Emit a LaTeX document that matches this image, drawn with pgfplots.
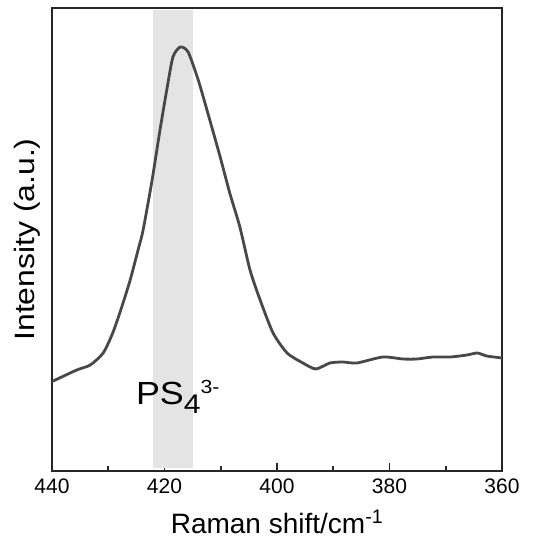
\documentclass[border=0pt]{standalone}
\usepackage{fontspec}
\setmainfont{Liberation Sans}
\newfontfamily\ylabfont{Liberation Sans}[FakeStretch=1.14]
\newfontfamily\psfont{Liberation Sans}[FakeStretch=1.12]
\usepackage{pgfplots}
\pgfplotsset{compat=1.18}
\definecolor{curve}{RGB}{72,72,72}
\definecolor{band}{RGB}{229,228,229}

\begin{document}
\begin{tikzpicture}
\begin{axis}[
    scale only axis,
    width=450pt, height=463pt,
    x dir=reverse,
    xmin=360, xmax=440,
    ymin=0, ymax=463,
    xtick={360,380,...,440},
    minor xtick={370,390,410,430},
    xtick pos=bottom,
    tick align=inside,
    ytick=\empty,
    major tick length=8pt,
    minor tick length=5pt,
    axis line style={line width=1.6pt, black!85},
    every tick/.style={line width=1.6pt, black!85},
    tick label style={font=\fontsize{21}{21}\selectfont},
    xticklabel style={yshift=-4pt},
    /pgf/number format/assume math mode=true,
    xlabel={Raman shift/cm\textsuperscript{-1}},
    ylabel={Intensity (a.u.)},
    xlabel style={font=\fontsize{28}{28}\selectfont, at={(axis description cs:0.5,0)}, anchor=base, yshift=-62pt},
    ylabel style={font=\ylabfont\fontsize{28}{28}\selectfont, at={([xshift=-17pt]axis description cs:0,0.5)}, anchor=base},
]
% highlighted band
\addplot[draw=none, fill=band] coordinates {(422,3.3) (415,3.3) (415,461) (422,461)} -- cycle;

\addplot[curve, line width=2.8pt, smooth, tension=0.4] coordinates {
(440,90) (439.8,90) (435.6,101) (433.2,106) (430.9,118) (429.2,138)
(427.6,164) (426.1,191) (424.7,221) (423.8,241) (422.2,291) (420.8,341)
(419.6,381) (418.5,414) (417.2,424) (415.8,419) (414.0,391) (412.3,358)
(410.1,314) (408.4,278) (406.6,244) (404.8,201) (403.0,171) (400.7,138)
(398.2,118) (395.4,108) (393.1,102) (390.6,108) (388.3,109) (385.8,108)
(381.2,114) (377.6,112) (375.1,112) (372.3,114) (369.2,114) (366.2,116)
(364.4,118) (362.7,115) (360,113)
};

\node[anchor=base west, inner sep=0pt, font=\psfont\fontsize{32}{32}\selectfont]
  at (axis cs:425.1,66)
  {PS\raisebox{-9pt}{\fontsize{27}{27}\selectfont 4}\raisebox{11pt}{\fontsize{19}{19}\selectfont 3-}};
\end{axis}
\path ([shift={(-52pt,-74pt)}]current axis.south west) rectangle ([shift={(34pt,8pt)}]current axis.north east);
\end{tikzpicture}
\end{document}
